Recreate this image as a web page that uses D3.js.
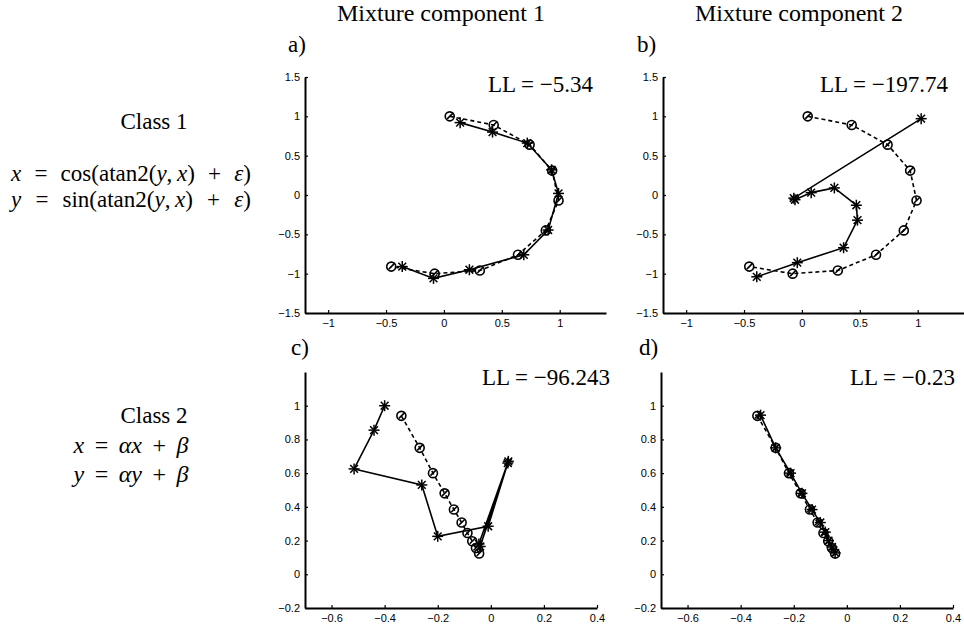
<!DOCTYPE html>
<html>
<head>
<meta charset="utf-8">
<script src="https://cdn.jsdelivr.net/npm/d3@7"></script>
<style>
  body { margin: 0; background: #fff; }
  text { fill: #000; }
</style>
</head>
<body>
<script>
// observed sequences (circles, dashed)
var classOneX = [0.05, 0.43, 0.74, 0.935, 0.99, 0.88, 0.64, 0.31, -0.08, -0.455];
var classOneY = [1.0, 0.89, 0.64, 0.31, -0.07, -0.45, -0.76, -0.96, -1.0, -0.91];
var classTwoX = [-0.337, -0.268, -0.218, -0.174, -0.139, -0.11, -0.088, -0.07, -0.056, -0.044];
var classTwoY = [0.94, 0.75, 0.60, 0.48, 0.384, 0.307, 0.245, 0.196, 0.156, 0.123];

// mixture component reconstructions (stars, solid)
var fitAX = [0.14, 0.42, 0.72, 0.93, 0.99, 0.90, 0.69, 0.22, -0.09, -0.36];
var fitAY = [0.92, 0.80, 0.66, 0.32, 0.02, -0.445, -0.76, -0.95, -1.06, -0.91];
var fitBX = [1.03, -0.07, -0.06, 0.08, 0.28, 0.47, 0.48, 0.36, -0.04, -0.39];
var fitBY = [0.97, -0.04, -0.06, 0.03, 0.09, -0.13, -0.32, -0.67, -0.86, -1.04];
var fitCX = [-0.40, -0.44, -0.515, -0.26, -0.20, -0.01, 0.066, -0.045, -0.04, 0.064];
var fitCY = [1.0, 0.855, 0.625, 0.53, 0.225, 0.285, 0.67, 0.18, 0.165, 0.66];
var fitDX = [-0.325, -0.268, -0.212, -0.169, -0.131, -0.10, -0.081, -0.069, -0.056, -0.044];
var fitDY = [0.944, 0.75, 0.60, 0.48, 0.384, 0.307, 0.25, 0.20, 0.162, 0.127];

var logLik = [-5.34, -197.74, -96.243, -0.23];
var panelLabels = ["a)", "b)", "c)", "d)"];
var columnTitles = ["Mixture component 1", "Mixture component 2"];
var rowTitles = ["Class 1", "Class 2"];

var ticksOneX = [-1, -0.5, 0, 0.5, 1];
var ticksOneY = [-1.5, -1, -0.5, 0, 0.5, 1, 1.5];
var ticksTwoX = [-0.6, -0.4, -0.2, 0, 0.2, 0.4];
var ticksTwoY = [-0.2, 0, 0.2, 0.4, 0.6, 0.8, 1];

var width = 964, height = 630;
var serif = "'Liberation Serif', 'Times New Roman', serif";
var sans = "'Liberation Sans', Arial, sans-serif";

function minus(v) { return String(v).replace("-", "\u2212"); }

var panels = [
    {left: 305, top: 77, w: 301, h: 236, xd: [-1.2, 1.4], yd: [-1.5, 1.5], xt: ticksOneX, yt: ticksOneY,
     dx: classOneX, dy: classOneY, fx: fitAX, fy: fitAY, llLeft: 183, labelX: 288, labelY: 52, llY: 92},
    {left: 663, top: 77, w: 301, h: 236, xd: [-1.2, 1.4], yd: [-1.5, 1.5], xt: ticksOneX, yt: ticksOneY,
     dx: classOneX, dy: classOneY, fx: fitBX, fy: fitBY, llLeft: 157, labelX: 637, labelY: 52, llY: 92},
    {left: 305, top: 372, w: 292, h: 236, xd: [-0.7, 0.4], yd: [-0.2, 1.2], xt: ticksTwoX, yt: ticksTwoY,
     dx: classTwoX, dy: classTwoY, fx: fitCX, fy: fitCY, llLeft: 177, labelX: 291, labelY: 355, llY: 385},
    {left: 661, top: 372, w: 292, h: 236, xd: [-0.7, 0.4], yd: [-0.2, 1.2], xt: ticksTwoX, yt: ticksTwoY,
     dx: classTwoX, dy: classTwoY, fx: fitDX, fy: fitDY, llLeft: 189, labelX: 639, labelY: 355, llY: 385}
];

var svg = d3.select("body").append("svg")
    .attr("width", width)
    .attr("height", height);

// column titles
svg.selectAll(".coltitle")
    .data(columnTitles)
    .enter()
    .append("text")
    .attr("x", (d, i) => i == 0 ? 441 : 799)
    .attr("y", 21)
    .attr("text-anchor", "middle")
    .style("font-family", serif)
    .style("font-size", "24px")
    .text(d => d);

// row titles + equations; TeX puts more room round = and +, so widen those spaces
function mathLine(x, y, len, size, parts) {
    var t = svg.append("text")
        .attr("x", x).attr("y", y)
        .attr("text-anchor", "middle")
        .style("font-family", serif)
        .style("font-size", size + "px");
    parts.forEach(function(p) {
        t.append("tspan")
            .style("font-style", p[1] ? "italic" : "normal")
            .text(p[0]);
    });
    var n = parts.map(p => p[0]).join("").split(" ").length - 1;
    var w0 = t.node().getComputedTextLength();
    if (n > 0 && w0 < len) t.style("word-spacing", ((len - w0) / n) + "px");
}

svg.append("text").attr("x", 154).attr("y", 129).attr("text-anchor", "middle")
    .style("font-family", serif).style("font-size", "23px").text(rowTitles[0]);
svg.append("text").attr("x", 154).attr("y", 423).attr("text-anchor", "middle")
    .style("font-family", serif).style("font-size", "23px").text(rowTitles[1]);

// thin space after the comma so it is not widened
mathLine(131, 181, 240, 23, [["x", 1], [" = cos(atan2(", 0], ["y", 1], [",\u2009", 0], ["x", 1], [") + ", 0], ["\u03b5", 1], [")", 0]]);
mathLine(131, 207, 240, 23, [["y", 1], [" = sin(atan2(", 0], ["y", 1], [",\u2009", 0], ["x", 1], [") + ", 0], ["\u03b5", 1], [")", 0]]);
mathLine(131, 453, 115, 24, [["x", 1], [" = ", 0], ["\u03b1x", 1], [" + ", 0], ["\u03b2", 1]]);
mathLine(131, 482, 115, 24, [["y", 1], [" = ", 0], ["\u03b1y", 1], [" + ", 0], ["\u03b2", 1]]);

function star(g, r) {
    [0, 45, 90, 135].forEach(function(a) {
        var rad = a * Math.PI / 180;
        g.append("line")
            .attr("x1", -r * Math.cos(rad)).attr("y1", -r * Math.sin(rad))
            .attr("x2", r * Math.cos(rad)).attr("y2", r * Math.sin(rad));
    });
}

panels.forEach(function(p, pi) {
    var g = svg.append("g").attr("transform", "translate(" + p.left + "," + p.top + ")");
    var x = d3.scaleLinear().domain(p.xd).range([0, p.w]);
    var y = d3.scaleLinear().domain(p.yd).range([p.h, 0]);

    var xAxis = g.append("g")
        .attr("transform", "translate(0," + p.h + ")")
        .call(d3.axisBottom(x).tickValues(p.xt).tickFormat(minus).tickSizeInner(-3).tickSizeOuter(0).tickPadding(6));
    var yAxis = g.append("g")
        .call(d3.axisLeft(y).tickValues(p.yt).tickFormat(minus).tickSizeInner(-3).tickSizeOuter(0).tickPadding(5));
    [xAxis, yAxis].forEach(function(a) {
        a.select(".domain").attr("stroke", "#000").attr("stroke-width", 2);
        a.selectAll(".tick line").attr("stroke", "#000").attr("stroke-width", 1.2);
        a.selectAll(".tick text").style("font-family", sans).style("font-size", "11px").attr("fill", "#000");
    });

    var obs = p.dx.map((v, i) => [v, p.dy[i]]);
    var fit = p.fx.map((v, i) => [v, p.fy[i]]);
    var line = d3.line().x(d => x(d[0])).y(d => y(d[1]));

    g.append("path")
        .datum(obs)
        .attr("d", line)
        .attr("fill", "none")
        .attr("stroke", "#000")
        .attr("stroke-width", 1.6)
        .attr("stroke-dasharray", "4,3");

    g.append("path")
        .datum(fit)
        .attr("d", line)
        .attr("fill", "none")
        .attr("stroke", "#000")
        .attr("stroke-width", 1.6);

    var circ = g.selectAll(".obs")
        .data(obs)
        .enter()
        .append("g")
        .attr("transform", d => "translate(" + x(d[0]) + "," + y(d[1]) + ")")
        .attr("stroke", "#000")
        .attr("stroke-width", 1.6)
        .attr("fill", "none");
    circ.append("circle").attr("r", 4.5);
    circ.append("line").attr("x1", -2.5).attr("y1", 2.5).attr("x2", 3.5).attr("y2", -3.5);

    var st = g.selectAll(".fit")
        .data(fit)
        .enter()
        .append("g")
        .attr("transform", d => "translate(" + x(d[0]) + "," + y(d[1]) + ")")
        .attr("stroke", "#000")
        .attr("stroke-width", 1.5);
    st.each(function() { star(d3.select(this), 5.5); });

    svg.append("text")
        .attr("x", p.labelX)
        .attr("y", p.labelY)
        .style("font-family", serif)
        .style("font-size", "23px")
        .text(panelLabels[pi]);

    svg.append("text")
        .attr("x", p.left + p.llLeft)
        .attr("y", p.llY)
        .style("font-family", serif)
        .style("font-size", "23px")
        .text("LL = " + minus(logLik[pi]));
});
</script>
</body>
</html>
